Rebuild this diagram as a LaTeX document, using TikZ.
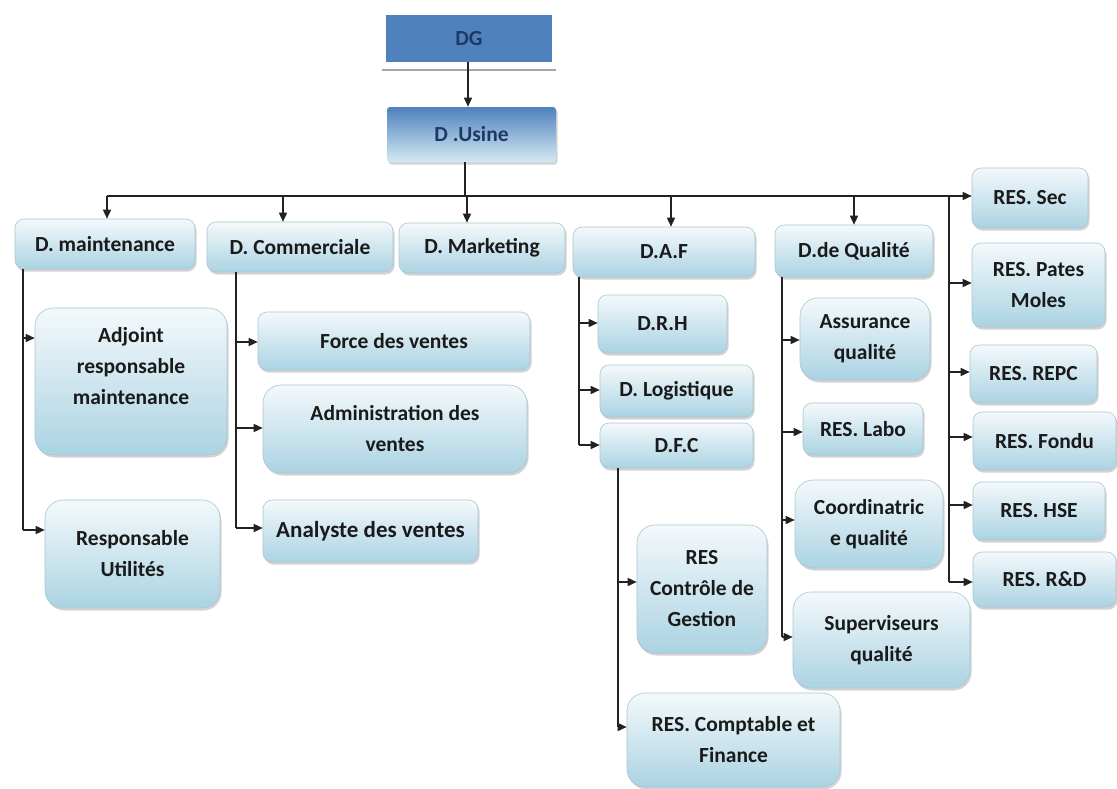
\documentclass[tikz,border=0pt]{standalone}
\usepackage{fontspec}
\setmainfont{Carlito}
\usetikzlibrary{arrows.meta,shadows}
\definecolor{boxtop}{HTML}{F4F9FB}
\definecolor{boxbot}{HTML}{ABD3E3}
\definecolor{boxline}{HTML}{A9C6D2}
\definecolor{dgblue}{HTML}{4F81BD}
\definecolor{usinebot}{HTML}{D3EAF3}
\definecolor{navy}{HTML}{1F3864}
\definecolor{txt}{HTML}{1A1A1A}
\definecolor{lin}{HTML}{222222}
\begin{document}
\begin{tikzpicture}[x=1pt,y=-1pt,
  bx/.style={draw=boxline, line width=0.6pt, rounded corners=9pt, top color=boxtop, bottom color=boxbot,
    drop shadow={shadow xshift=1.5pt,shadow yshift=-2.5pt,opacity=0.35},
    font=\bfseries\fontsize{21.5}{31}\selectfont, text=txt, align=center, inner sep=2pt},
  big/.style={rounded corners=18pt},
  conn/.style={draw=lin, line width=1.5pt},
  arr/.style={conn, -{Triangle[length=9pt,width=8pt]}},
]
\useasboundingbox (0,0) rectangle (1117,788);

% top
\node[fill=dgblue, minimum width=166pt, minimum height=47pt, text=navy,
  font=\bfseries\fontsize{21.5}{24}\selectfont] (dg) at (469,38.5) {DG};
\draw[gray!70, line width=2pt] ([xshift=-4pt,yshift=-8pt]dg.south west) -- ([xshift=4pt,yshift=-8pt]dg.south east);
\node[bx, rounded corners=3pt, top color=dgblue, bottom color=usinebot, draw=none, text=navy,
  minimum width=169pt, minimum height=55pt] (usine) at (471.5,134.5) {D .Usine};
\draw[arr] (dg.south -| 468,0) -- (usine.north -| 468,0);

% level 1
\node[bx, minimum width=180pt, minimum height=50pt] (maint) at (105,244) {D. maintenance};
\node[bx, minimum width=186pt, minimum height=50pt] (com) at (300,247) {D. Commerciale};
\node[bx, minimum width=166pt, minimum height=50pt] (mkt) at (482,248) {D. Marketing};
\node[bx, minimum width=182pt, minimum height=50pt] (daf) at (664,252) {D.A.F};
\node[bx, minimum width=158pt, minimum height=52pt] (qual) at (854,251) {D.de Qualité};

% right column
\node[bx, minimum width=116pt, minimum height=60pt] (sec) at (1030,198) {RES. Sec};
\node[bx, minimum width=133pt, minimum height=84pt] (pates) at (1038.5,285) {RES. Pates\\Moles};
\node[bx, minimum width=127pt, minimum height=58pt] (repc) at (1033.5,374) {RES. REPC};
\node[bx, minimum width=143pt, minimum height=58pt] (fondu) at (1044.5,441) {RES. Fondu};
\node[bx, minimum width=132pt, minimum height=58pt] (hse) at (1039,511) {RES. HSE};
\node[bx, minimum width=143pt, minimum height=55pt] (rd) at (1044.5,579.5) {RES. R\&D};

% maintenance children
\node[bx, big, minimum width=192pt, minimum height=147pt] (adj) at (131,381.5) {Adjoint\\responsable\\maintenance\\\mbox{}};
\node[bx, big, minimum width=175pt, minimum height=108pt] (util) at (132.5,554) {Responsable\\Utilités};

% commerciale children
\node[bx, minimum width=272pt, minimum height=58pt] (force) at (394,341) {Force des ventes};
\node[bx, big, minimum width=264pt, minimum height=88pt] (admin) at (395,429) {Administration des\\ventes};
\node[bx, minimum width=215pt, minimum height=62pt, font=\bfseries\fontsize{23}{30}\selectfont] (analyse) at (370.5,531) {Analyste des ventes};

% DAF children
\node[bx, minimum width=129pt, minimum height=58pt] (drh) at (662.5,324) {D.R.H};
\node[bx, minimum width=153pt, minimum height=52pt] (log) at (676.5,391) {D. Logistique};
\node[bx, minimum width=153pt, minimum height=45pt] (dfc) at (676.5,445.5) {D.F.C};
\node[bx, big, minimum width=130pt, minimum height=128pt] (rcg) at (702,589) {RES\\Contrôle de\\Gestion};
\node[bx, big, minimum width=213pt, minimum height=94pt] (rcf) at (733.5,740) {RES. Comptable et\\Finance};

% qualite children
\node[bx, big, minimum width=130pt, minimum height=82pt] (ass) at (865,339) {Assurance\\qualité};
\node[bx, minimum width=120pt, minimum height=52pt] (labo) at (863,429) {RES. Labo};
\node[bx, big, minimum width=148pt, minimum height=88pt] (coord) at (869,524) {Coordinatric\\e qualité};
\node[bx, big, minimum width=177pt, minimum height=96pt] (sup) at (881.5,640) {Superviseurs\\qualité};

% bus
\coordinate (busL) at (107,196);
\coordinate (busR) at (949,196);
\coordinate (uj) at (465,196);
\coordinate (dcom) at (283,196);
\coordinate (dmkt) at (467,196);
\coordinate (ddaf) at (671,196);
\coordinate (dqual) at (854,196);
\draw[conn] (usine.south -| uj) -- (uj);
\draw[conn] (busL) -- (busR);
\draw[arr] (busL) -- (busL |- maint.north);
\draw[arr] (dcom) -- (dcom |- com.north);
\draw[arr] (dmkt) -- (dmkt |- mkt.north);
\draw[arr] (ddaf) -- (ddaf |- daf.north);
\draw[arr] (dqual) -- (dqual |- qual.north);

% right spine
\coordinate (rPates) at (949,283);
\coordinate (rRepc) at (949,372);
\coordinate (rFondu) at (949,437);
\coordinate (rHse) at (949,505);
\coordinate (rRd) at (949,582);
\draw[conn] (busR) -- (rRd);
\draw[arr] (busR) -- (busR -| sec.west);
\draw[arr] (rPates) -- (rPates -| pates.west);
\draw[arr] (rRepc) -- (rRepc -| repc.west);
\draw[arr] (rFondu) -- (rFondu -| fondu.west);
\draw[arr] (rHse) -- (rHse -| hse.west);
\draw[arr] (rRd) -- (rRd -| rd.west);

% maintenance spine
\coordinate (mAdj) at (23,338);
\coordinate (mUtil) at (23,530);
\draw[conn] (maint.south -| mAdj) -- (mUtil);
\draw[arr] (mAdj) -- (mAdj -| adj.west);
\draw[arr] (mUtil) -- (mUtil -| util.west);

% commerciale spine
\coordinate (cForce) at (236,342);
\coordinate (cAdmin) at (236,428);
\coordinate (cAnal) at (236,528);
\draw[conn] (com.south -| cForce) -- (cAnal);
\draw[arr] (cForce) -- (cForce -| force.west);
\draw[arr] (cAdmin) -- (cAdmin -| admin.west);
\draw[arr] (cAnal) -- (cAnal -| analyse.west);

% DAF spine
\coordinate (aDrh) at (579,323);
\coordinate (aLog) at (579,390);
\coordinate (aDfc) at (579,445);
\draw[conn] (daf.south -| aDrh) -- (aDfc);
\draw[arr] (aDrh) -- (aDrh -| drh.west);
\draw[arr] (aLog) -- (aLog -| log.west);
\draw[arr] (aDfc) -- (aDfc -| dfc.west);

% DFC spine
\coordinate (fRcg) at (618,582);
\coordinate (fRcf) at (618,727);
\draw[conn] (dfc.south -| fRcg) -- (fRcf);
\draw[arr] (fRcg) -- (fRcg -| rcg.west);
\draw[arr] (fRcf) -- (fRcf -| rcf.west);

% qualite spine
\coordinate (qAss) at (782,340);
\coordinate (qLabo) at (782,432);
\coordinate (qCoord) at (782,520);
\coordinate (qSup) at (782,637);
\draw[conn] (qual.south -| qAss) -- (qSup);
\draw[arr] (qAss) -- (qAss -| ass.west);
\draw[arr] (qLabo) -- (qLabo -| labo.west);
\draw[arr] (qCoord) -- (qCoord -| coord.west);
\draw[arr] (qSup) -- (qSup -| sup.west);
\end{tikzpicture}
\end{document}
